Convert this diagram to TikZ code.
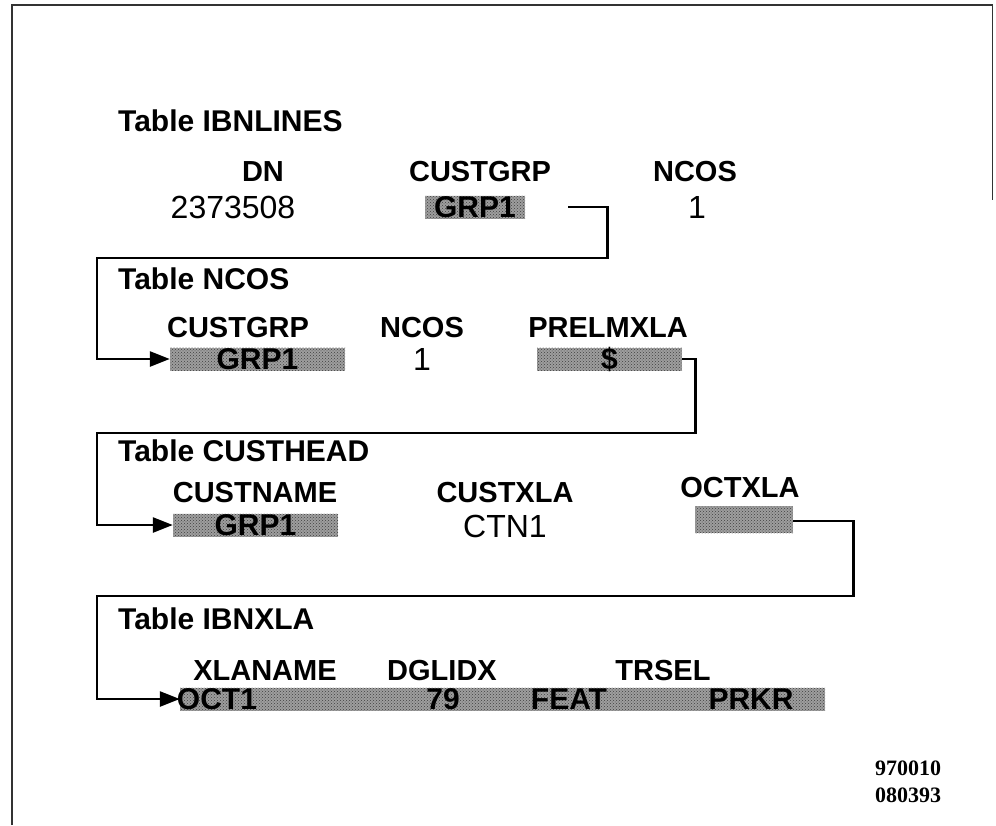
\documentclass[tikz,border=0pt]{standalone}
\usepackage{fontspec}
\setmainfont{Liberation Sans}
\newfontfamily\refnum{Liberation Serif}
\usetikzlibrary{arrows.meta,patterns}
\begin{document}
\begin{tikzpicture}[x=1pt,y=-1pt,
  title/.style={font=\bfseries\fontsize{30}{30}\selectfont, anchor=base west, inner sep=0},
  colhead/.style={font=\bfseries\fontsize{29}{29}\selectfont, anchor=base, inner sep=0},
  val/.style={font=\fontsize{32}{32}\selectfont, anchor=base, inner sep=0},
  shaded/.style={fill=black!38, draw=none, inner sep=0, minimum height=23,
     postaction={pattern=crosshatch dots, pattern color=black!75},
     font=\bfseries\fontsize{30}{30}\selectfont},
  celltext/.style={font=\bfseries\fontsize{30}{30}\selectfont, inner sep=0},
  link/.style={line width=2.6pt, line cap=butt, line join=miter},
  linkarrow/.style={link, -{Triangle[length=20pt,width=15pt]}},
  frameline/.style={line width=1.2pt, black!80}]
\useasboundingbox (0,0) rectangle (996,825);

% open frame
\draw[frameline] (12,825) -- (12,5) -- (993,5);
\draw[frameline, line width=0.8pt] (992,5) -- (992,200);

% Table IBNLINES
\node[title] (t1) at (118,131) {Table IBNLINES};
\node[colhead] (h1a) at (263,181) {DN};
\node[colhead] (h1b) at (480,181) {CUSTGRP};
\node[colhead] (h1c) at (695,181) {NCOS};
\node[val] (v1a) at (233,218) {2373508};
\node[shaded, minimum width=100] (v1b) at (475,207) {};
\node[celltext] (v1bt) at (v1b) {GRP1};
\node[val] (v1c) at (697,218) {1};

% Table NCOS
\node[title] (t2) at (118,289) {Table NCOS};
\node[colhead] (h2a) at (238,337) {CUSTGRP};
\node[colhead] (h2b) at (422,337) {NCOS};
\node[colhead] (h2c) at (608,337) {PRELMXLA};
\node[shaded, minimum width=175] (v2a) at (257.5,359) {};
\node[celltext] (v2at) at (v2a) {GRP1};
\node[val] (v2b) at (422,370) {1};
\node[shaded, minimum width=145] (v2c) at (609.5,359) {};
\node[celltext] (v2ct) at (v2c) {\$};

% Table CUSTHEAD
\node[title] (t3) at (118,461) {Table CUSTHEAD};
\node[colhead] (h3a) at (255,502) {CUSTNAME};
\node[colhead] (h3b) at (505,502) {CUSTXLA};
\node[colhead] (h3c) at (740,497) {OCTXLA};
\node[shaded, minimum width=165] (v3a) at (255.5,525) {};
\node[celltext] (v3at) at (v3a) {GRP1};
\node[val] (v3b) at (505,537) {CTN1};
\node[shaded, minimum width=98, minimum height=27] (v3c) at (744,519.5) {};

% Table IBNXLA
\node[title] (t4) at (118,629) {Table IBNXLA};
\node[colhead] (h4a) at (265,680) {XLANAME};
\node[colhead] (h4b) at (442,680) {DGLIDX};
\node[colhead] (h4c) at (663,680) {TRSEL};
\node[shaded, minimum width=645] (v4) at (502.5,699) {};
\node[celltext] (v4a) at (217,699) {OCT1};
\node[celltext] (v4b) at (443,699) {79};
\node[celltext] (v4c) at (569,699) {FEAT};
\node[celltext] (v4d) at (751,699) {PRKR};

% reference numbers
\node[font=\refnum\bfseries\fontsize{22}{22}\selectfont, anchor=base, inner sep=0] (r1) at (908,775) {970010};
\node[font=\refnum\bfseries\fontsize{22}{22}\selectfont, anchor=base, inner sep=0] (r2) at (908,802) {080393};

% connectors between the tables
\coordinate (c1) at ([xshift=43pt]v1b.east);
\draw[linkarrow] (c1) -- ++(39,0) |- (97,258) |- (v2a.west);
\draw[linkarrow] (v2c.east) -- ++(13,0) |- (97,433) |- (v3a.west);
\draw[linkarrow] ([yshift=-1.5pt]v3c.east) -- ++(60,0) |- (97,596) |- (v4.west);
\end{tikzpicture}
\end{document}
